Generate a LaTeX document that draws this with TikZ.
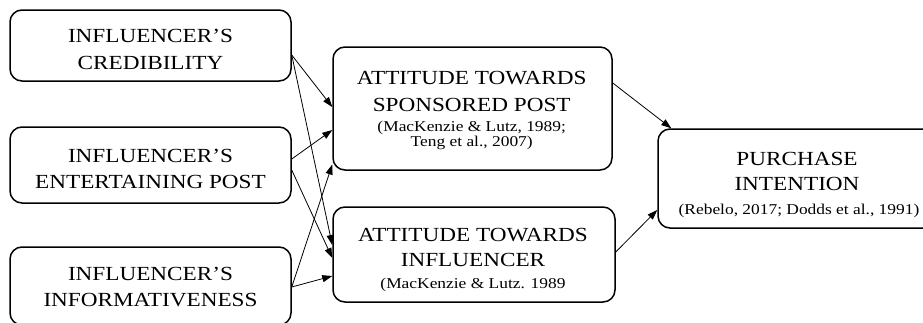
\documentclass[tikz,border=0pt]{standalone}
\usepackage{fontspec}
\setmainfont{Liberation Serif}[FakeStretch=1.16]
\usetikzlibrary{arrows.meta,calc}
\begin{document}
\begin{tikzpicture}[x=1pt,y=-1pt,
  box/.style={draw,line width=1.5pt,rounded corners=12pt,inner sep=0pt},
  ttl/.style={anchor=base,inner sep=0pt,font=\fontsize{20}{24}\selectfont},
  cit/.style={anchor=base,inner sep=0pt,font=\fontsize{15}{18}\selectfont},
  link/.style={line width=0.8pt,-{Triangle[length=10pt,width=7pt]}},
]
\useasboundingbox (0,0) rectangle (923,322);
% boxes
\node[box,minimum width=281pt,minimum height=71pt] (b1) at (150.5,45.5) {};
\node[box,minimum width=281pt,minimum height=76pt] (b2) at (150.5,165) {};
\node[box,minimum width=281pt,minimum height=78pt] (b3) at (150.5,286) {};
\node[box,minimum width=279pt,minimum height=123pt] (a) at (472.5,108.5) {};
\node[box,minimum width=282pt,minimum height=95pt] (b) at (474,254.5) {};
\node[box,minimum width=280pt,minimum height=99pt] (c) at (798,178.5) {};
% texts
\node[ttl] (b1t1) at (150.5,42.3) {INFLUENCER’S};
\node[ttl] (b1t2) at (150.5,69.3) {CREDIBILITY};
\node[ttl] (b2t1) at (150.5,162.7) {INFLUENCER’S};
\node[ttl] (b2t2) at (150.5,188.5) {ENTERTAINING POST};
\node[ttl] (b3t1) at (150.5,280.5) {INFLUENCER’S};
\node[ttl] (b3t2) at (150.5,306.7) {INFORMATIVENESS};
\node[ttl] (at1) at (471.7,84.3) {ATTITUDE TOWARDS};
\node[ttl] (at2) at (471.7,111) {SPONSORED POST};
\node[cit] (at3) at (471.7,131) {(MacKenzie \& Lutz, 1989;};
\node[cit] (at4) at (471.7,146) {Teng et al., 2007)};
\node[ttl] (bt1) at (473,241.7) {ATTITUDE TOWARDS};
\node[ttl] (bt2) at (473,266.7) {INFLUENCER};
\node[cit] (bt3) at (473,288.3) {(MacKenzie \& Lutz. 1989};
\node[ttl] (ct1) at (797,165) {PURCHASE};
\node[ttl] (ct2) at (797,190.3) {INTENTION};
\node[cit] (ct3) at (799,214) {(Rebelo, 2017; Dodds et al., 1991)};
% connectors
\draw[link] ([yshift=-9.5pt]b1.east) -- ([yshift=1.5pt]a.west);
\draw[link] ([yshift=-9.5pt]b1.east) -- ([yshift=9.5pt]b.west);
\draw[link] ([yshift=6pt]b2.east) -- ([yshift=-21.5pt]a.west);
\draw[link] ([yshift=-5pt]b2.east) -- ([yshift=-3.5pt]b.west);
\draw[link] ([yshift=-1pt]b3.east) -- ([yshift=-56pt]a.west);
\draw[link] ([yshift=-1pt]b3.east) -- ([yshift=-21.5pt]b.west);
\draw[link] ([yshift=25.5pt]a.east) -- ([xshift=14pt]c.north west);
\draw[link] ([yshift=2.5pt]b.east) -- ([yshift=-31.5pt]c.west);
\end{tikzpicture}
\end{document}
